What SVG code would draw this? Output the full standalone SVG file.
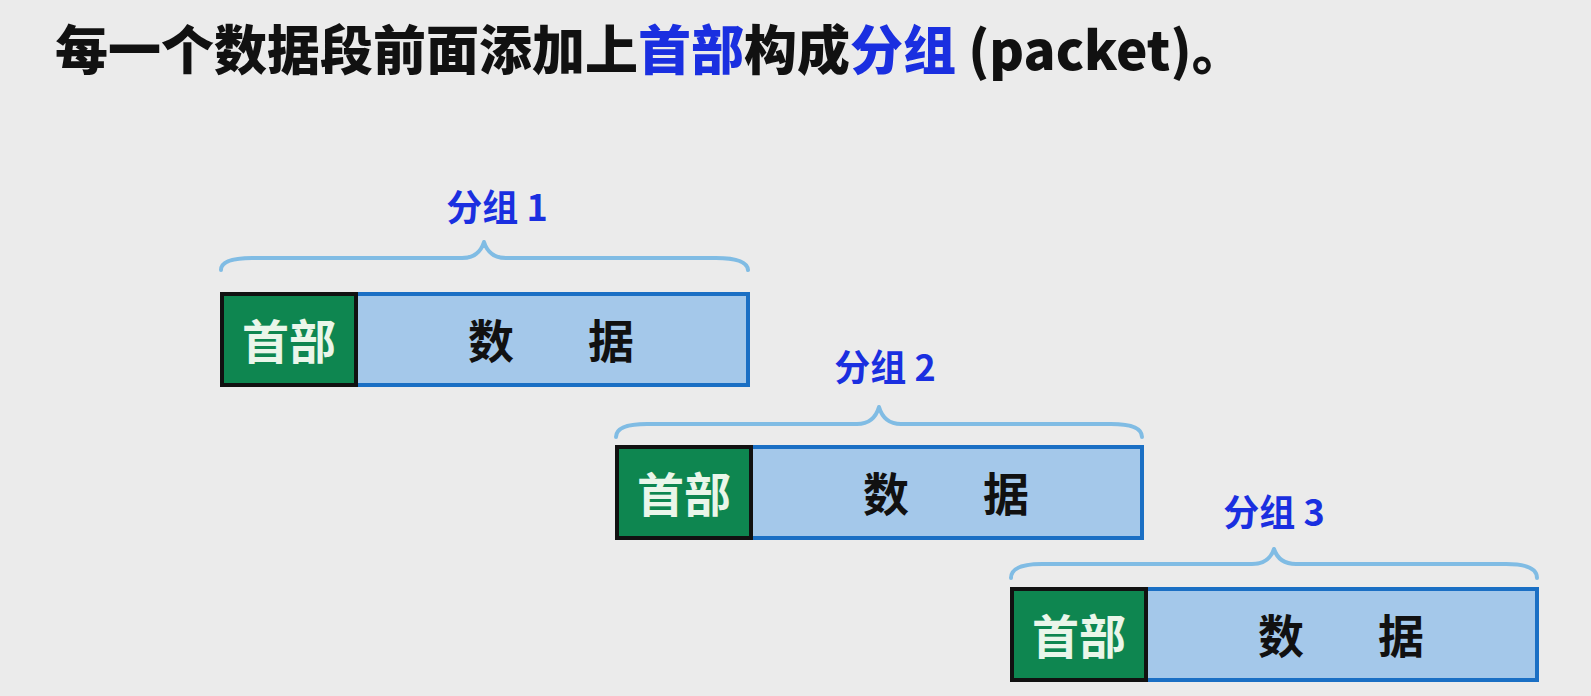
<svg xmlns="http://www.w3.org/2000/svg" width="1591" height="696" viewBox="0 0 1591 696">
<style>
.bg{fill:#ebebeb}
.hdr{fill:#0e8650;stroke:#111;stroke-width:4}
.dat{fill:#a4c8ea;stroke:#1a6fc4;stroke-width:4}
.brace{fill:none;stroke:#80bce4;stroke-width:4;stroke-linecap:round;stroke-linejoin:round}
.t{font-family:"Noto Sans CJK SC","Noto Sans",sans-serif;font-weight:bold}
.title{font-size:53px;fill:#111;font-weight:900}
.blue{fill:#1a2fe0}
.lab{font-size:36px;fill:#1a2fe0;text-anchor:middle}
.ht{font-size:47px;fill:#eaf6ea;text-anchor:middle}
.dt{font-size:46px;fill:#111;text-anchor:middle}
</style>
<rect class="bg" x="0" y="0" width="1591" height="696"/>
<g id="title">
<text class="t title" x="55" y="70">每一个数据段前面添加上<tspan class="blue">首部</tspan>构成<tspan class="blue">分组</tspan> (packet)。</text>
</g>
<g id="braces">
<path class="brace" d="M221,270 Q221,258 252,258 L462,258 Q479,258 484,242 Q489,258 506,258 L716,258 Q747,258 748,270"/>
<path class="brace" d="M616,437 Q616,424 647,424 L857,424 Q874,424 879,407 Q884,424 901,424 L1111,424 Q1142,424 1142,437"/>
<path class="brace" d="M1011,578 Q1011,564 1042,564 L1252,564 Q1269,564 1274,549 Q1279,564 1296,564 L1506,564 Q1537,564 1537,578"/>
</g>
<g id="packet1">
<text class="t lab" x="497" y="221">分组 1</text>
<rect class="dat" x="355" y="294" width="393" height="91"/>
<rect class="hdr" x="222" y="294" width="134" height="91"/>
<text class="t ht" x="289" y="359">首部</text>
<text class="t dt" y="358"><tspan x="491">数</tspan><tspan x="611">据</tspan></text>
</g>
<g id="packet2">
<text class="t lab" x="885" y="381">分组 2</text>
<rect class="dat" x="750" y="447" width="392" height="91"/>
<rect class="hdr" x="617" y="447" width="134" height="91"/>
<text class="t ht" x="684" y="512">首部</text>
<text class="t dt" y="511"><tspan x="886">数</tspan><tspan x="1006">据</tspan></text>
</g>
<g id="packet3">
<text class="t lab" x="1274" y="526">分组 3</text>
<rect class="dat" x="1145" y="589" width="392" height="91"/>
<rect class="hdr" x="1012" y="589" width="134" height="91"/>
<text class="t ht" x="1079" y="654">首部</text>
<text class="t dt" y="653"><tspan x="1281">数</tspan><tspan x="1401">据</tspan></text>
</g>
</svg>
